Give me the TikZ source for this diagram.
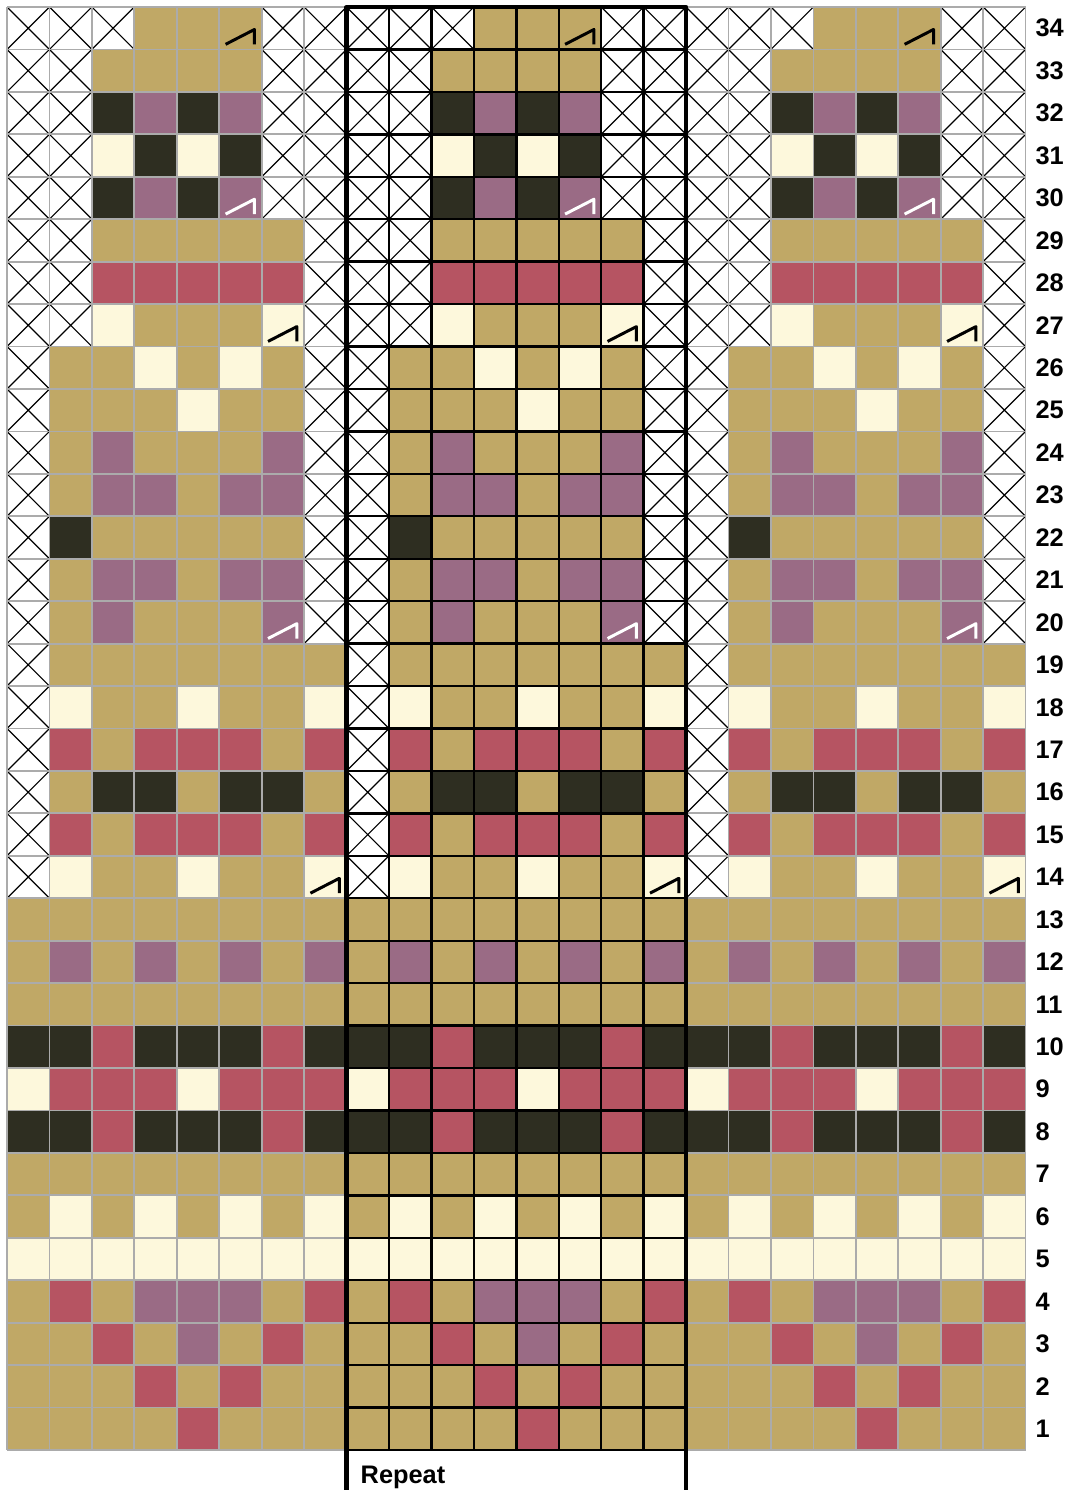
\documentclass[tikz,border=0pt]{standalone}
\usepackage{fontspec}
\setmainfont{Liberation Sans}
\definecolor{chTan}{HTML}{C0A866}
\definecolor{chDark}{HTML}{2E2E21}
\definecolor{chMauve}{HTML}{9A6B85}
\definecolor{chRed}{HTML}{B65462}
\definecolor{chCream}{HTML}{FDF8DC}
\definecolor{chGrid}{HTML}{ABABAB}
\begin{document}
\begin{tikzpicture}[x=0.5cm,y=0.5cm,line join=round,
		cellT/.style={fill=chTan},cellD/.style={fill=chDark},cellM/.style={fill=chMauve},
		cellR/.style={fill=chRed},cellC/.style={fill=chCream},
		cellX/.style={fill=white,path picture={\draw[line width=0.4pt] (path picture bounding box.south west) -- (path picture bounding box.north east) (path picture bounding box.north west) -- (path picture bounding box.south east);}},
		decmark/.style={path picture={\draw[#1,line width=1pt] ([shift={(0.15,0.12)}]path picture bounding box.south west) -- ++(0.68,0.35) -- ++(0,-0.35);}},
		cellt/.style={cellT,decmark=black},cellc/.style={cellC,decmark=black},cellm/.style={cellM,decmark=white},
		rownum/.style={anchor=west,inner sep=0pt,font=\fontsize{8.5}{10}\selectfont\bfseries}]
	\useasboundingbox (-0.165,-0.942) rectangle (25.065,34.165);
	% chart, one repeat of 8 stitches, drawn three times
	\foreach \r/\pat in {34/{X,X,X,T,T,t,X,X},33/{X,X,T,T,T,T,X,X},32/{X,X,D,M,D,M,X,X},31/{X,X,C,D,C,D,X,X},
		30/{X,X,D,M,D,m,X,X},29/{X,X,T,T,T,T,T,X},28/{X,X,R,R,R,R,R,X},27/{X,X,C,T,T,T,c,X},
		26/{X,T,T,C,T,C,T,X},25/{X,T,T,T,C,T,T,X},24/{X,T,M,T,T,T,M,X},23/{X,T,M,M,T,M,M,X},
		22/{X,D,T,T,T,T,T,X},21/{X,T,M,M,T,M,M,X},20/{X,T,M,T,T,T,m,X},19/{X,T,T,T,T,T,T,T},
		18/{X,C,T,T,C,T,T,C},17/{X,R,T,R,R,R,T,R},16/{X,T,D,D,T,D,D,T},15/{X,R,T,R,R,R,T,R},
		14/{X,C,T,T,C,T,T,c},13/{T,T,T,T,T,T,T,T},12/{T,M,T,M,T,M,T,M},11/{T,T,T,T,T,T,T,T},
		10/{D,D,R,D,D,D,R,D},9/{C,R,R,R,C,R,R,R},8/{D,D,R,D,D,D,R,D},7/{T,T,T,T,T,T,T,T},
		6/{T,C,T,C,T,C,T,C},5/{C,C,C,C,C,C,C,C},4/{T,R,T,M,M,M,T,R},3/{T,T,R,T,M,T,R,T},
		2/{T,T,T,R,T,R,T,T},1/{T,T,T,T,R,T,T,T}}{
		\foreach \k in {0,1,2}{
			\foreach \c [count=\i from 0] in \pat
				\path[cell\c] ({8*\k+\i},\r-1) rectangle ++(1,1);
		}
		\node[rownum] (row\r) at (24.22,\r-0.5) {\r};
	}
	\draw[chGrid,line width=0.6pt,step=1] (0,0) grid (24,34);
	\draw[line width=0.8pt,step=1] (8,0) grid (16,34);
	% repeat box
	\draw[line width=1.4pt,line cap=rect] (8,-0.942) -- (8,34) -- (16,34) -- (16,-0.942);
	\node[anchor=base west,inner sep=0pt,font=\fontsize{8.5}{10}\selectfont\bfseries] (rep) at (8.32,-0.78) {Repeat};
\end{tikzpicture}
\end{document}
